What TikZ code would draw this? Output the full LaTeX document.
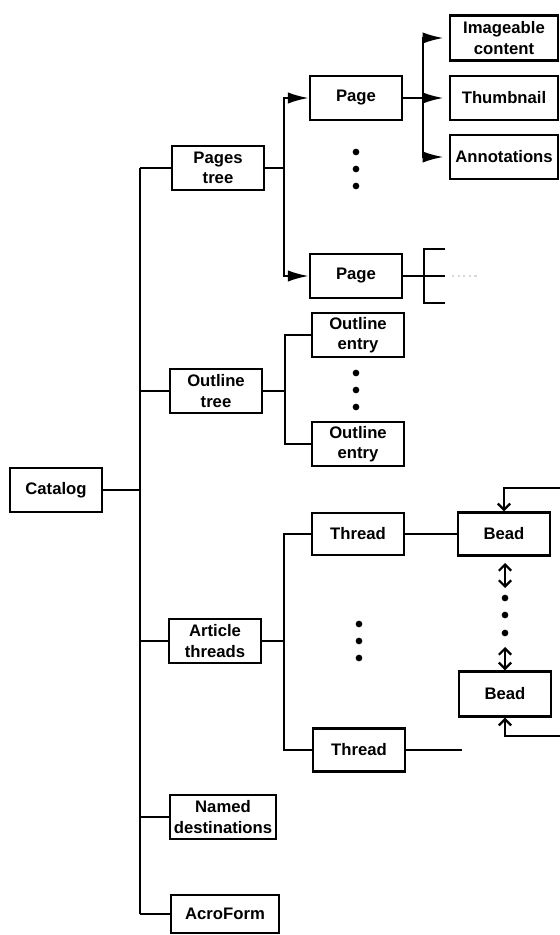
\documentclass[tikz,border=0pt]{standalone}
\usepackage{fontspec}
\setmainfont{Liberation Sans}
\usetikzlibrary{arrows.meta}

\begin{document}
\begin{tikzpicture}[x=0.02cm, y=-0.02cm,
    box/.style={draw, line width=1.3pt, inner sep=0pt, align=center,
        minimum width=1.84cm, minimum height=0.88cm,
        font=\fontsize{9.5}{11.5}\selectfont\bfseries},
    widebox/.style={box, minimum width=2.16cm},
    link/.style={line width=1.3pt},
    solidarrow/.style={link, -{Latex[length=12pt,width=6.5pt]}},
    barb/.style={link, -{Straight Barb[length=3.5pt,width=7pt]}},
    bothbarb/.style={link, {Straight Barb[length=3.5pt,width=7pt]}-{Straight Barb[length=3.5pt,width=7pt]}}]

    \useasboundingbox (0,0) rectangle (560,935);

    % Catalog and the main trunk
    \node[box] (catalog) at (56,490) {Catalog};
    \coordinate (trunktop) at (140,168);
    \coordinate (trunkbot) at (140,914);
    \draw[link] (trunktop) -- (trunkbot);
    \draw[link] (catalog.east) -- (catalog.east -| trunktop);

    % Second level - the dictionaries hanging off the catalog
    \node[box] (pagestree) at (218,168) {Pages\\tree};
    \node[box] (outlinetree) at (216,391) {Outline\\tree};
    \node[box] (articles) at (215,641) {Article\\threads};
    \node[box, minimum width=2.12cm] (nameddest) at (223,817) {Named\\destinations};
    \node[widebox, minimum height=0.76cm] (acroform) at (225,914) {AcroForm};
    \foreach \n in {pagestree,outlinetree,articles,nameddest,acroform}
        \draw[link] (\n.west -| trunktop) -- (\n.west);

    % Pages tree - two pages with the dots between them
    \node[box] (page1) at (356,98) {Page};
    \node[box] (page2) at (356,276) {Page};
    \coordinate (pagejoin) at (284,168);
    \draw[link] (pagestree.east) -- (pagejoin);
    \draw[solidarrow] (pagejoin) |- (page1.west);
    \draw[solidarrow] (pagejoin) |- (page2.west);
    \foreach \y in {152,169,186}
        \fill (356,\y) circle[radius=1.9pt];

    % What one page points to
    \node[widebox, minimum height=0.9cm] (imageable) at (504,38) {Imageable\\content};
    \node[widebox] (thumbnail) at (504,98) {Thumbnail};
    \node[widebox] (annots) at (504,157) {Annotations};
    \coordinate (pagefan) at (423,98);
    \draw[link] (page1.east) -- (pagefan);
    \foreach \n in {imageable,thumbnail,annots}
        \draw[solidarrow, shorten >=3pt] (pagefan) |- (\n.west);

    % Second page - bracket only
    \coordinate (brjoin) at (424,276);
    \coordinate (brtop) at (445,249);
    \coordinate (brmid) at (445,276);
    \coordinate (brbot) at (445,303);
    \draw[link] (page2.east) -- (brjoin) -- (brmid);
    \draw[link] (brtop) -| (brjoin) |- (brbot);
    \draw[gray!30, line width=1.2pt, dotted] (452,276) -- (480,276);

    % Outline tree
    \node[box] (entry1) at (358,335) {Outline\\entry};
    \node[box] (entry2) at (358,444) {Outline\\entry};
    \coordinate (outjoin) at (285,391);
    \draw[link] (outlinetree.east) -- (outjoin);
    \draw[link] (outjoin) |- (entry1.west);
    \draw[link] (outjoin) |- (entry2.west);
    \foreach \y in {373,390,407}
        \fill (356,\y) circle[radius=1.9pt];

    % Article threads and their beads
    \node[box, minimum height=0.84cm] (thread1) at (358,534) {Thread};
    \node[box, minimum height=0.86cm] (thread2) at (359,750) {Thread};
    \coordinate (artjoin) at (284,641);
    \draw[link] (articles.east) -- (artjoin);
    \draw[link] (artjoin) |- (thread1.west);
    \draw[link] (artjoin) |- (thread2.west);
    \foreach \y in {624,641,658}
        \fill (359,\y) circle[radius=1.9pt];

    \node[box, minimum height=0.86cm] (bead1) at (504,534) {Bead};
    \node[box, minimum height=0.9cm] (bead2) at (505,694) {Bead};
    \draw[link] (thread1.east) -- (bead1.west);
    \coordinate (threadend) at (462,750);
    \draw[link] (thread2.east) -- (threadend);

    % Bead chain
    \coordinate (looptop) at (560,488);
    \coordinate (loopbot) at (560,736);
    \draw[barb] (looptop) -| (bead1.north);
    \draw[barb] (loopbot) -| (bead2.south);
    \coordinate (up1) at (505,563);
    \coordinate (dn1) at (505,588);
    \coordinate (up2) at (505,647);
    \draw[bothbarb] (up1) -- (dn1);
    \draw[bothbarb] (up2) -- (bead2.north);
    \foreach \y in {598,615,633}
        \fill (505,\y) circle[radius=1.9pt];

\end{tikzpicture}
\end{document}
